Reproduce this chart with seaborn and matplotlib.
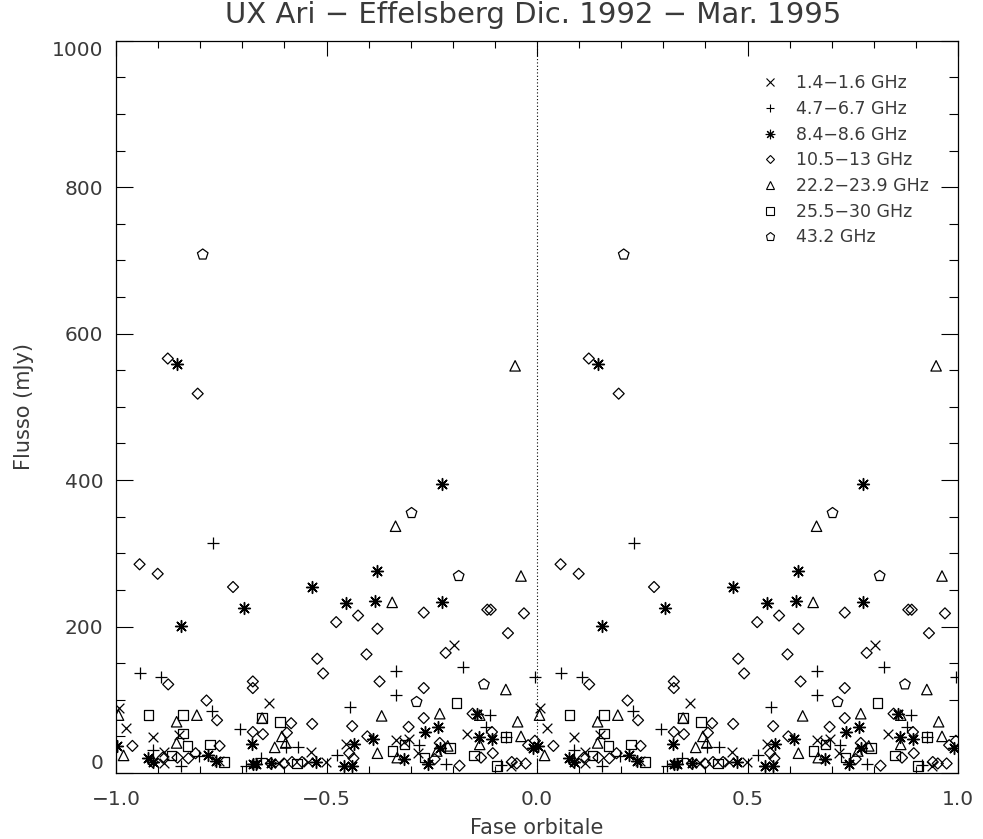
import numpy as np
import pandas as pd
import matplotlib
matplotlib.use("Agg")
import matplotlib.pyplot as plt
from matplotlib.lines import Line2D
import seaborn as sns

# Orbital phase (0..1) and flux density (mJy) per frequency band
ph_l = [0.006, 0.023, 0.149, 0.089, 0.113, 0.113, 0.363, 0.547, 0.463, 0.387,
        0.456, 0.804, 0.833, 0.666, 0.685, 0.695, 0.717, 0.938, 0.244, 0.499]
fl_l = [89, 61, 52, 49, 28, 13, 96, 39, 28, 13,
        15, 175, 53, 45, 42, 46, 27, 10, 17, 15]

ph_c = [0.058, 0.108, 0.230, 0.228, 0.295, 0.089, 0.197, 0.154, 0.309, 0.325,
        0.556, 0.403, 0.432, 0.525, 0.344, 0.666, 0.824, 0.995, 0.666, 0.888,
        0.879, 0.926, 0.719, 0.785, 0.915]
fl_c = [136, 131, 314, 85, 60, 32, 23, 10, 10, 12,
        90, 35, 35, 24, 21, 139, 145, 131, 106, 79,
        63, 49, 38, 12, 11]

ph_x = [0.144, 0.774, 0.466, 0.304, 0.154, 0.621, 0.547, 0.616, 0.774, 0.003,
        0.322, 0.077, 0.087, 0.218, 0.237, 0.325, 0.611, 0.566, 0.332, 0.368,
        0.475, 0.542, 0.561, 0.857, 0.766, 0.733, 0.862, 0.893, 0.769, 0.990,
        0.685, 0.740]
fl_x = [559, 394, 254, 226, 201, 276, 232, 235, 233, 37,
        39, 20, 15, 24, 17, 12, 47, 39, 12, 13,
        15, 10, 10, 81, 63, 56, 49, 47, 34, 34,
        19, 12]

ph_k = [0.123, 0.194, 0.056, 0.099, 0.278, 0.882, 0.890, 0.731, 0.969, 0.575,
        0.523, 0.621, 0.931, 0.124, 0.325, 0.325, 0.215, 0.240, 0.325, 0.246,
        0.039, 0.087, 0.111, 0.146, 0.172, 0.189, 0.595, 0.478, 0.492, 0.626,
        0.416, 0.466, 0.561, 0.349, 0.406, 0.597, 0.554, 0.564, 0.368, 0.399,
        0.418, 0.442, 0.783, 0.731, 0.731, 0.847, 0.695, 0.893, 0.769, 0.895,
        0.979, 0.757, 0.816, 0.867, 0.940, 0.952, 0.973, 0.995]
fl_k = [566, 518, 285, 272, 254, 223, 223, 219, 218, 215,
        206, 197, 191, 121, 125, 116, 99, 72, 56, 37,
        37, 15, 21, 21, 20, 27, 162, 156, 136, 125,
        68, 67, 64, 53, 55, 50, 27, 20, 13, 13,
        15, 15, 164, 116, 75, 81, 63, 56, 41, 27,
        38, 19, 10, 21, 15, 13, 13, 44]

ph_k1 = [0.948, 0.664, 0.962, 0.656, 0.006, 0.192, 0.144, 0.144, 0.018, 0.631,
         0.347, 0.394, 0.377, 0.403, 0.621, 0.769, 0.926, 0.864, 0.954, 0.962,
         0.788, 0.762, 0.864, 0.668]
fl_k1 = [556, 337, 269, 233, 79, 79, 70, 41, 24, 78,
         75, 50, 35, 41, 27, 81, 114, 79, 70, 50,
         37, 30, 39, 21]

ph_ka = [0.077, 0.160, 0.160, 0.170, 0.223, 0.132, 0.256, 0.347, 0.389, 0.430,
         0.809, 0.926, 0.685, 0.793, 0.657, 0.850, 0.733, 0.905]
fl_ka = [79, 79, 54, 37, 39, 24, 15, 75, 70, 13,
         96, 49, 39, 34, 30, 24, 21, 10]

ph_q = [0.206, 0.702, 0.814, 0.874, 0.714]
fl_q = [708, 355, 269, 121, 97]

bands = ["1.4\u22121.6 GHz", "4.7\u22126.7 GHz", "8.4\u22128.6 GHz",
         "10.5\u221213 GHz", "22.2\u221223.9 GHz", "25.5\u221230 GHz", "43.2 GHz"]
phases = [ph_l, ph_c, ph_x, ph_k, ph_k1, ph_ka, ph_q]
fluxes = [fl_l, fl_c, fl_x, fl_k, fl_k1, fl_ka, fl_q]

# (marker, size in points, line width, filled-shape flag)
marker_style = {
    bands[0]: ("x", 7.0, 0.9, False),
    bands[1]: ("+", 8.0, 0.9, False),
    bands[2]: ((8, 2, 0), 8.5, 1.05, False),
    bands[3]: ("D", 5.6, 0.9, True),
    bands[4]: ("^", 7.5, 0.9, True),
    bands[5]: ("s", 7.0, 0.9, True),
    bands[6]: ("p", 8.0, 0.9, True),
}

rows = []
for band, ph, fl in zip(bands, phases, fluxes):
    for p, f in zip(ph, fl):
        rows.append((band, p, f))
        rows.append((band, p - 1.0, f))
df = pd.DataFrame(rows, columns=["band", "phase", "flux"])

sns.set_style("ticks")
plt.rcParams["font.family"] = ["DejaVu Sans"]
TXT = "#3a3a3a"

fig = plt.figure(figsize=(9.83, 8.39), dpi=100)
ax = fig.add_axes([116 / 983, 1 - 773 / 839, (958 - 116) / 983, (773 - 40.7) / 839])

for band in bands:
    sub = df[df["band"] == band]
    m, ms, lw, filled = marker_style[band]
    kw = dict(marker=m, s=ms ** 2, linewidth=lw, legend=False, ax=ax)
    if filled:
        kw.update(facecolor="none", edgecolor="black")
    else:
        kw.update(color="black")
    sns.scatterplot(data=sub, x="phase", y="flux", **kw)

ax.axvline(0.0, color="black", linestyle=(0, (1, 2)), linewidth=0.8)

ax.set_xlim(-1.0, 1.0)
ax.set_ylim(0, 1000)
ax.set_xticks([-1.0, -0.5, 0.0, 0.5, 1.0])
ax.set_xticks(np.arange(-1.0, 1.01, 0.1), minor=True)
ax.set_yticks(np.arange(0, 1001, 200))
ax.set_yticks(np.arange(0, 1001, 50), minor=True)
ax.xaxis.set_major_formatter(plt.FuncFormatter(lambda v, _: f"{v:.1f}".replace("-", "\u2212")))

for s in ax.spines.values():
    s.set_color("black")
    s.set_linewidth(0.9)

ax.tick_params(axis="both", which="both", direction="in", top=True, right=True,
               color="black", width=0.8, labelsize=14.5, labelcolor=TXT)
ax.tick_params(axis="x", which="major", length=10.5, pad=12)
ax.tick_params(axis="x", which="minor", length=5.2)
ax.tick_params(axis="y", which="major", length=12, pad=9)
ax.tick_params(axis="y", which="minor", length=6.2)

# end labels of the flux axis stay inside the frame height
ylabels = ax.get_yticklabels()
ylabels[0].set_verticalalignment("bottom")
ylabels[-1].set_verticalalignment("top")

ax.set_xlabel("Fase orbitale", fontsize=15, color=TXT, labelpad=7)
ax.set_ylabel("Flusso (mJy)", fontsize=15, color=TXT, labelpad=13)
fig.text(533 / 983, 1 - 15 / 839, "UX Ari \u2212 Effelsberg Dic. 1992 \u2212 Mar. 1995",
         fontsize=21, color=TXT, ha="center", va="center")

handles = []
for band in bands:
    m, ms, lw, filled = marker_style[band]
    handles.append(Line2D([], [], linestyle="none", marker=m, markersize=ms * 0.8,
                          color="black", markerfacecolor="none",
                          markeredgewidth=0.8))
fs = 12.5
leg = ax.legend(handles, bands, loc="upper left", frameon=False, fontsize=fs,
                bbox_to_anchor=(760 / 983, 1 - 74.5 / 839), bbox_transform=fig.transFigure,
                borderpad=0, borderaxespad=0, handlelength=1.2, handletextpad=0.85,
                labelspacing=0.44)
for t in leg.get_texts():
    t.set_color(TXT)

fig.savefig("out.png", dpi=100)
